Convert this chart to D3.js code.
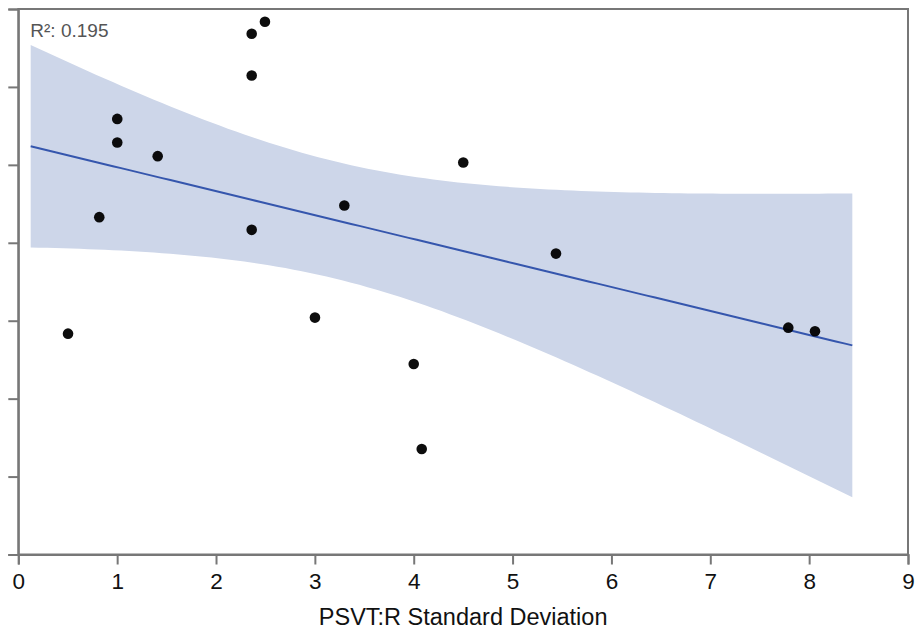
<!DOCTYPE html>
<html>
<head>
<meta charset="utf-8">
<script src="https://cdn.jsdelivr.net/npm/d3@7"></script>
<style>
  body { margin: 0; background: #fff; }
  text { font-family: "Liberation Sans", Arial, sans-serif; }
</style>
</head>
<body>
<div id="chart"></div>
<script>
// PSVT:R standard deviation (x) vs. an unlabelled y measure
const sdValues = [0.503, 0.819, 1.001, 1.001, 1.410, 2.495, 2.361, 2.361, 2.361,
                  3.298, 3.001, 4.501, 5.439, 4.000, 4.081, 7.789, 8.059];
const yValues  = [2.834, 4.329, 5.590, 5.286, 5.112, 6.836, 6.682, 6.146, 4.166,
                  4.478, 3.040, 5.030, 3.861, 2.445, 1.354, 2.911, 2.865];
const xTicks = [0, 1, 2, 3, 4, 5, 6, 7, 8, 9];
const yTicks = [0, 1, 2, 3, 4, 5, 6, 7];

const width = 915, height = 630;
const margin = {top: 9, right: 7, bottom: 75.5, left: 18.3};
const innerW = width - margin.left - margin.right;
const innerH = height - margin.top - margin.bottom;

let svg = d3.select("#chart")
    .append("svg")
    .attr("width", width)
    .attr("height", height)
    .append("g")
    .attr("transform", `translate(${margin.left}, ${margin.top})`);

let x = d3.scaleLinear().domain([0, 9]).range([0, innerW]);
let y = d3.scaleLinear().domain([0, 7]).range([innerH, 0]);

let data = sdValues.map((v, i) => ({x: v, y: yValues[i]}));

// ordinary least squares + 95% confidence band
let n = data.length;
let mx = d3.mean(data, d => d.x), my = d3.mean(data, d => d.y);
let sxx = d3.sum(data, d => (d.x - mx) ** 2);
let sxy = d3.sum(data, d => (d.x - mx) * (d.y - my));
let syy = d3.sum(data, d => (d.y - my) ** 2);
let slope = sxy / sxx, intercept = my - slope * mx;
let sse = d3.sum(data, d => (d.y - (intercept + slope * d.x)) ** 2);
let r2 = 1 - sse / syy;
let s = Math.sqrt(sse / (n - 2));
let tCrit = 2.131; // t(0.975, df = 15)

let xmin = d3.min(sdValues), xmax = d3.max(sdValues);
let pad = (xmax - xmin) * 0.05;
let grid = d3.range(0, 101).map(i => xmin - pad + (xmax - xmin + 2 * pad) * i / 100);
let band = grid.map(g => {
  let fit = intercept + slope * g;
  let hw = tCrit * s * Math.sqrt(1 / n + (g - mx) ** 2 / sxx);
  return {x: g, fit: fit, lo: fit - hw, hi: fit + hw};
});

svg.append("path")
    .datum(band)
    .attr("fill", "#cdd6e9")
    .attr("d", d3.area().x(d => x(d.x)).y0(d => y(d.lo)).y1(d => y(d.hi)));

svg.append("path")
    .datum(band)
    .attr("fill", "none")
    .attr("stroke", "#3556ad")
    .attr("stroke-width", 2)
    .attr("d", d3.line().x(d => x(d.x)).y(d => y(d.fit)));

svg.selectAll("circle")
    .data(data)
    .enter()
    .append("circle")
    .attr("cx", d => x(d.x))
    .attr("cy", d => y(d.y))
    .attr("r", 5.3)
    .attr("fill", "#000")
    .attr("fill-opacity", 0.95);

// frame
svg.append("rect")
    .attr("width", innerW)
    .attr("height", innerH)
    .attr("fill", "none")
    .attr("stroke", "#777")
    .attr("stroke-width", 2);

let xAxis = svg.append("g")
    .attr("transform", `translate(0, ${innerH})`)
    .call(d3.axisBottom(x).tickValues(xTicks).tickSize(10).tickPadding(9));
xAxis.select(".domain").attr("stroke", "#777").attr("stroke-width", 2);
xAxis.selectAll(".tick line").attr("stroke", "#777").attr("stroke-width", 2);
xAxis.selectAll(".tick text")
    .attr("fill", "#111")
    .style("font-size", "22.5px");

let yAxis = svg.append("g")
    .call(d3.axisLeft(y).tickValues(yTicks).tickSize(10).tickFormat(""));
yAxis.select(".domain").attr("stroke", "#777").attr("stroke-width", 2);
yAxis.selectAll(".tick line").attr("stroke", "#777").attr("stroke-width", 2);

svg.append("text")
    .attr("x", innerW / 2)
    .attr("y", innerH + 70)
    .attr("text-anchor", "middle")
    .attr("fill", "#111")
    .style("font-size", "23.5px")
    .text("PSVT:R Standard Deviation");

svg.append("text")
    .attr("x", 12)
    .attr("y", 28)
    .attr("fill", "#555")
    .style("font-size", "19px")
    .text(`R²: ${r2.toFixed(3)}`);
</script>
</body>
</html>
